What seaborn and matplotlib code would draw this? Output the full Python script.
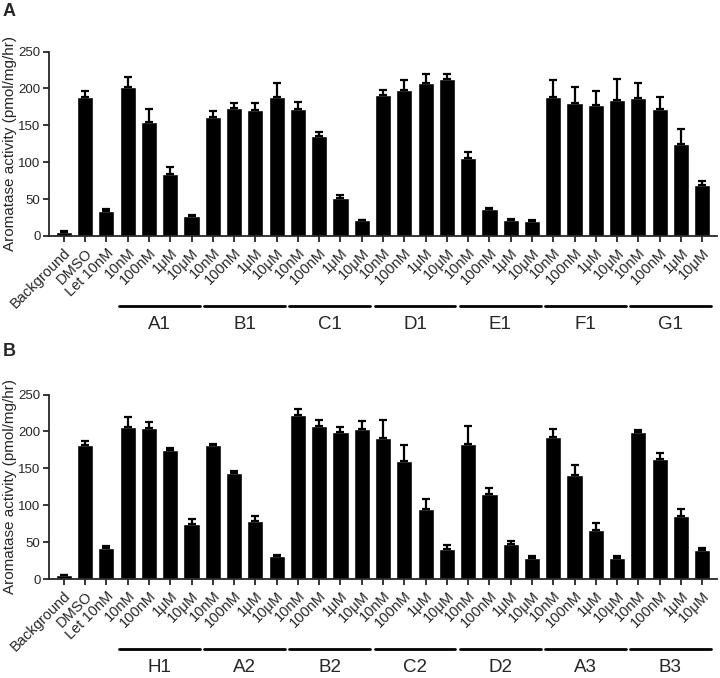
import matplotlib
matplotlib.use('Agg')
from matplotlib import pyplot as plt
import matplotlib.transforms as mtransforms
import numpy as np
import seaborn as sns

sns.set_style('ticks')
plt.rcParams['font.family'] = ['Liberation Sans', 'DejaVu Sans']

control_labels = ['Background', 'DMSO', 'Let 10nM']
conc_labels = ['10nM', '100nM', '1\u03bcM', '10\u03bcM']

groups_A = ['A1', 'B1', 'C1', 'D1', 'E1', 'F1', 'G1']
values_A = [5, 189, 34,
            202, 155, 84, 27,
            161, 173, 171, 189,
            172, 135, 52, 21,
            191, 198, 208, 213,
            105, 36, 22, 20,
            188, 180, 178, 184,
            187, 172, 125, 69]
err_A = [1.5, 7, 3,
         14, 17, 9.5, 1,
         8, 7, 9.5, 18,
         10, 5.5, 4, 1,
         7.5, 13, 11, 6,
         9, 2, 1.5, 1,
         23, 22, 19, 29,
         20, 16, 20, 6]

groups_B = ['H1', 'A2', 'B2', 'C2', 'D2', 'A3', 'B3']
values_B = [5, 182, 41.5,
            206, 205, 175, 75,
            181, 143.5, 79, 31,
            223, 207.5, 199, 204,
            191, 160, 95, 41,
            183, 115, 48, 29,
            193, 141, 66, 29,
            199, 163, 86, 40]
err_B = [1, 5, 3,
         13, 8, 3, 6,
         2, 3, 6, 1.5,
         7, 7.5, 7, 10,
         24, 22, 13.5, 4.5,
         25, 8, 3, 2,
         10, 13, 10, 2,
         3, 8, 8.5, 1.5]


# Draws one panel of bars with upward error bars and group underlines
def panel(ax, values, errs, groups, line_y, text_y):
  labels = control_labels + conc_labels * len(groups)
  x = np.arange(len(values))
  sns.barplot(x=x, y=values, color='black', width=0.76, saturation=1, ax=ax)
  ax.errorbar(x, values, yerr=[np.zeros(len(errs)), errs], fmt='none',
              ecolor='black', elinewidth=1.6, capsize=2.8, capthick=1.6)
  ax.set_xlim(-0.7, len(values) - 0.3)
  ax.set_ylim(0, 250)
  ax.set_yticks([0, 50, 100, 150, 200, 250])
  ax.set_xticks(x)
  ax.set_xticklabels(labels, rotation=45, ha='right', rotation_mode='anchor')
  ax.tick_params(axis='both', width=1.3, length=4, labelsize=9.5, pad=2)
  ax.tick_params(axis='x', labelsize=10.5, pad=3)
  ax.set_ylabel('Aromatase activity (pmol/mg/hr)', fontsize=11)
  ax.yaxis.set_label_coords(-0.048, 0.5)
  for s in ['left', 'bottom']:
    ax.spines[s].set_linewidth(1.3)
  sns.despine(ax=ax)
  trans = mtransforms.blended_transform_factory(ax.transData, ax.transAxes)
  for i, g in enumerate(groups):
    start = 3 + 4 * i
    ax.plot([start - 0.4, start + 3.4], [line_y, line_y], color='black', lw=2,
            transform=trans, clip_on=False)
    ax.text(start + 1.5, text_y, g, transform=trans, ha='center', va='center',
            fontsize=13.5)


fig = plt.figure(figsize=(7.2, 6.78), dpi=100)
ax_a = fig.add_axes([0.068, 0.652, 0.928, 0.272])
ax_b = fig.add_axes([0.068, 0.146, 0.928, 0.272])
panel(ax_a, values_A, err_A, groups_A, -0.382, -0.479)
panel(ax_b, values_B, err_B, groups_B, -0.379, -0.479)
fig.text(0.004, 1 - 11 / 678, 'A', fontsize=13, fontweight='bold', va='center')
fig.text(0.004, 1 - 351 / 678, 'B', fontsize=13, fontweight='bold', va='center')
fig.savefig('out.png', dpi=100)
